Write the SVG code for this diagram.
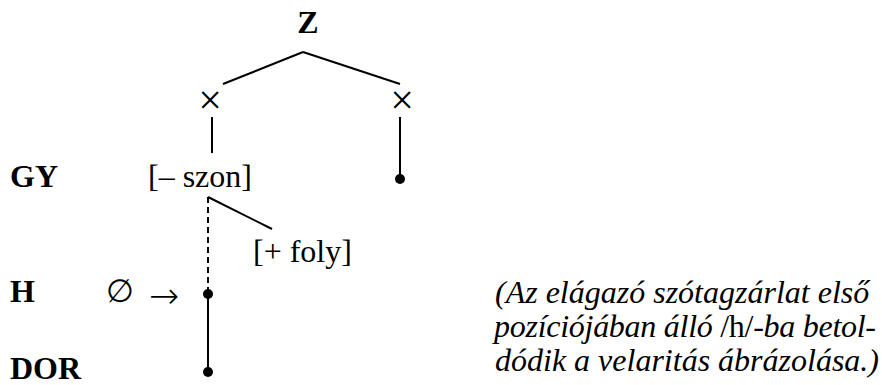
<svg xmlns="http://www.w3.org/2000/svg" width="882" height="385" viewBox="0 0 882 385">
<style>
.t{font-family:'Liberation Serif','DejaVu Serif',serif;font-size:32px;fill:#000}
.b{font-weight:bold}
.i{font-style:italic}
.x{font-size:42px}
.a{font-family:'DejaVu Sans',sans-serif;font-size:36px;font-weight:200;fill:#000}
line{stroke:#000;stroke-width:2}
.d{stroke-dasharray:6,4}
</style>
<rect width="882" height="385" fill="#fff"/>
<g id="labels">
<text class="t b" x="10" y="187">GY</text>
<text class="t b" x="10" y="302">H</text>
<text class="t b" x="10" y="379">DOR</text>
</g>
<g id="Z"><text class="t b" x="308" y="33" text-anchor="middle">Z</text></g>
<g id="x1"><text class="t x" x="210" y="114" text-anchor="middle">×</text></g>
<g id="x2"><text class="t x" x="402" y="114" text-anchor="middle">×</text></g>
<g id="szon"><text class="t" x="148" y="187">[– szon]</text></g>
<g id="foly"><text class="t" x="253" y="262">[+ foly]</text></g>
<g id="empty"><text class="t" x="106" y="302">∅</text><text class="a" x="149" y="308">→</text></g>
<g id="dots">
<circle cx="400" cy="179" r="5"/>
<circle cx="208" cy="294" r="5"/>
<circle cx="208" cy="372" r="5"/>
</g>
<g id="connectors">
<line x1="223" y1="84" x2="303" y2="52"/>
<line x1="303" y1="52" x2="400" y2="84"/>
<line x1="212" y1="117" x2="212" y2="153"/>
<line x1="400" y1="117" x2="400" y2="179"/>
<line class="d" x1="208" y1="197" x2="208" y2="294"/>
<line x1="208" y1="197" x2="272" y2="229"/>
<line x1="208" y1="294" x2="208" y2="372"/>
</g>
<g id="note">
<text class="t i" x="495" y="303">(Az elágazó szótagzárlat első</text>
<text class="t i" x="494" y="337" textLength="382" lengthAdjust="spacing">pozíciójában álló <tspan font-style="normal">/h/</tspan>-ba betol-</text>
<text class="t i" x="495" y="371">dódik a velaritás ábrázolása.)</text>
</g>
</svg>
